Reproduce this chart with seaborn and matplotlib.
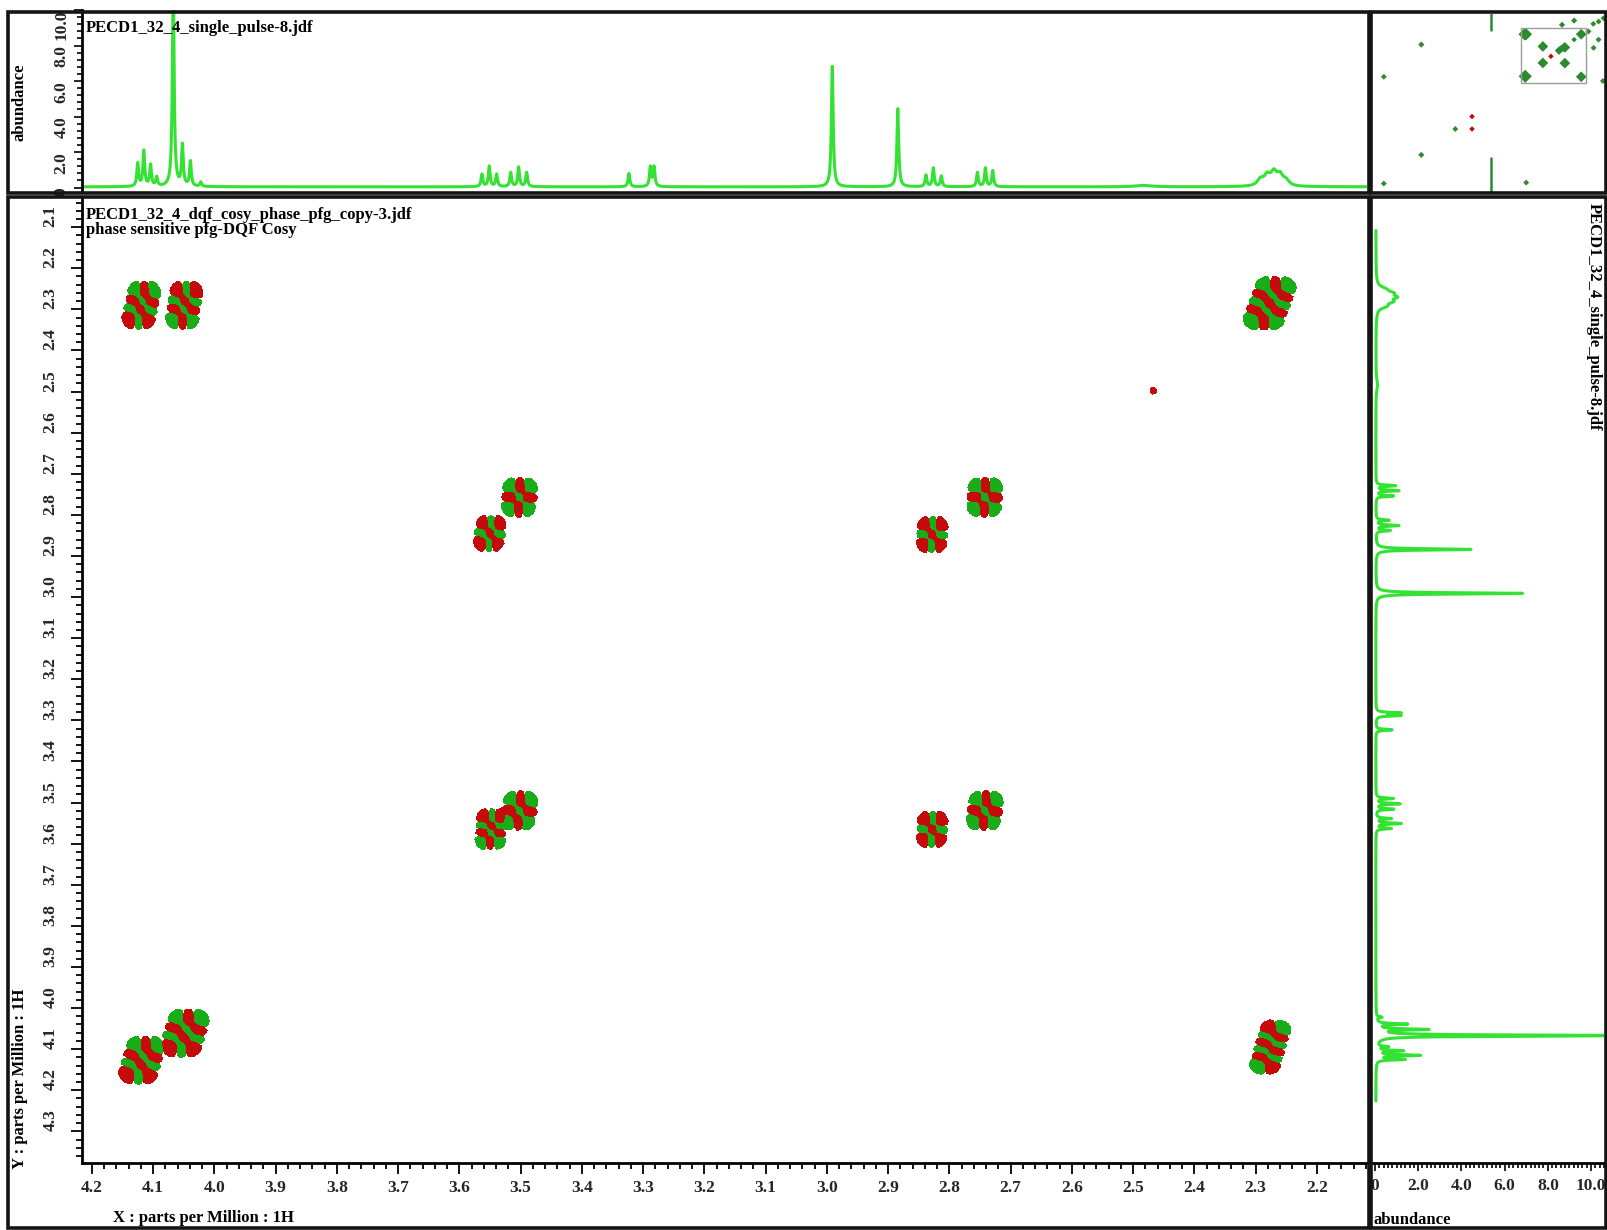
import numpy as np
import matplotlib
matplotlib.use("Agg")
import matplotlib.pyplot as plt
from matplotlib.patches import Rectangle
from matplotlib.ticker import MultipleLocator, FixedLocator
import seaborn as sns

sns.set_theme(style="white")
plt.rcParams["font.family"] = ["Liberation Serif", "DejaVu Serif"]
plt.rcParams["font.weight"] = "bold"
plt.rcParams["axes.labelweight"] = "bold"

W, H = 1608, 1230

# ---------------- 1H single-pulse spectrum: line list ----------------
line_ppm = [4.125, 4.115, 4.104, 4.094, 4.067, 4.052, 4.039, 4.022,
            3.563, 3.551, 3.539, 3.516, 3.503, 3.490,
            3.323, 3.288, 3.282,
            2.991, 2.884,
            2.838, 2.826, 2.813, 2.754, 2.741, 2.729,
            2.483,
            2.292, 2.281, 2.270, 2.260, 2.250]
line_height = [1.3, 2.0, 1.2, 0.5, 11.5, 2.3, 1.4, 0.25,
               0.7, 1.15, 0.7, 0.8, 1.1, 0.8,
               0.75, 1.1, 1.1,
               6.8, 4.4,
               0.65, 1.05, 0.6, 0.8, 1.05, 0.9,
               0.08,
               0.35, 0.55, 0.7, 0.55, 0.28]
line_hwhm = [0.0017] * 17 + [0.0017, 0.0017] + [0.0017] * 6 + [0.015] + [0.006] * 5
spec_baseline = 0.04

# ---------------- DQF-COSY peaks (F2 = x, F1 = y) ----------------
cosy_x = [4.119, 4.049, 2.277, 3.502, 3.550, 2.828, 2.742,
          3.548, 3.502, 2.828, 2.742, 4.118, 4.048, 2.276, 2.467]
cosy_y = [2.290, 2.290, 2.285, 2.757, 2.845, 2.848, 2.757,
          3.565, 3.520, 3.565, 3.520, 4.127, 4.061, 4.095, 2.498]
cosy_sign = [1, -1, 1, 1, -1, -1, 1, -1, 1, -1, 1, 1, 1, 1, -0.03]
cosy_nx = [3, 3, 3, 3, 3, 3, 3, 3, 3, 3, 3, 3, 3, 2, 1]
cosy_ny = [4, 4, 5, 3, 3, 3, 3, 4, 3, 3, 3, 4, 4, 6, 1]
cosy_dx = [0.0108, 0.0108, 0.0137, 0.0113, 0.0099, 0.0099, 0.0113,
           0.0099, 0.0113, 0.0099, 0.0113, 0.0128, 0.0137, 0.0125, 0.006]
cosy_dy = [0.0192, 0.0192, 0.0183, 0.0191, 0.0173, 0.0173, 0.0191,
           0.0163, 0.0191, 0.0173, 0.0191, 0.0192, 0.0192, 0.0163, 0.008]
cosy_shear = [0.15, 0.1, 0.25, 0.05, 0.1, 0.05, 0.05,
              0.05, 0.1, 0.05, 0.1, 0.2, 0.2, 0.2, 0.0]
contour_floor = 0.007

# ---------------- overview map (full spectral width) ----------------
ov_x = [4.10, 4.06, 3.51, 3.51, 2.80, 2.80, 4.08, 2.27, 2.27,
        2.99, 2.94, 2.885, 2.83, 2.89, 2.50, 2.04, 1.88, 1.71,
        1.55, 1.71, 1.87, 1.57, 7.44, 8.65, 6.34, 7.44, 8.65, 4.05, 2.50]
ov_y = [2.29, 2.29, 2.81, 3.51, 2.85, 3.52, 4.08, 2.29, 4.10,
        2.99, 2.92, 2.885, 2.83, 1.89, 1.71, 2.17, 1.85, 1.75,
        1.61, 2.52, 2.87, 4.28, 2.73, 4.10, 6.32, 7.42, 8.64, 8.60, 2.52]
ov_size = [40, 40, 30, 30, 30, 30, 45, 30, 30,
           18, 14, 14, 14, 10, 10, 10, 9, 9,
           9, 9, 9, 9, 10, 9, 9, 10, 9, 9, 8]
ov_neg_x = [3.25, 5.80, 5.80]
ov_neg_y = [3.23, 5.79, 6.32]
streak_x = [5.18, 5.18]
streak_upper_y = [1.43, 2.10]
streak_lower_y = [7.55, 9.00]

x_ticks = [4.2, 4.1, 4.0, 3.9, 3.8, 3.7, 3.6, 3.5, 3.4, 3.3, 3.2, 3.1,
           3.0, 2.9, 2.8, 2.7, 2.6, 2.5, 2.4, 2.3, 2.2]
y_ticks = [2.1, 2.2, 2.3, 2.4, 2.5, 2.6, 2.7, 2.8, 2.9, 3.0, 3.1, 3.2,
           3.3, 3.4, 3.5, 3.6, 3.7, 3.8, 3.9, 4.0, 4.1, 4.2, 4.3]
abund_ticks = [0, 2, 4, 6, 8, 10]
abund_labels = ["0", "2.0", "4.0", "6.0", "8.0", "10.0"]

x_lim = (4.216, 2.118)
y_lim = (4.377, 2.029)
top_ylim = (-0.25, 10.0)
right_xlim = (-0.09, 10.6)
ov_xlim = (9.0, 1.47)
ov_ylim = (9.0, 1.43)

LINE_GREEN = "#34e234"
POS = "#1aad1a"
NEG = "#c50b0b"
OV_GREEN = "#2d8a2d"
FRAME = "#141414"
TICK_FS = 12.5
TEXT_FS = 12


def fbox(x0, y0, x1, y1):
    return [x0 / W, 1 - y1 / H, (x1 - x0) / W, (y1 - y0) / H]


def ftext(fig, x, y, s, **kw):
    fig.text(x / W, 1 - y / H, s, fontsize=kw.pop("fontsize", TEXT_FS),
             fontweight="bold", color="black", **kw)


def lobe_weights(n):
    c = (n - 1) / 2
    return [1.0 - 0.3 * abs(k - c) / max(c, 1.0) for k in range(n)]


fig = plt.figure(figsize=(W / 100, H / 100), dpi=100)
fig.patch.set_facecolor("white")

ax_top = fig.add_axes(fbox(82, 10, 1367, 192))
ax_main = fig.add_axes(fbox(82, 198, 1367, 1163))
ax_right = fig.add_axes(fbox(1373, 198, 1604, 1163))
ax_ov = fig.add_axes(fbox(1373, 14, 1606, 192))

# ---- 1D spectrum from the line list (Lorentzian lines) ----
ppm_grid = np.linspace(x_lim[1] - 0.01, x_lim[0] + 0.01, 9000)
spec = np.full_like(ppm_grid, spec_baseline)
for p, h, w in zip(line_ppm, line_height, line_hwhm):
    spec += h / (1.0 + ((ppm_grid - p) / w) ** 2)

sns.lineplot(x=ppm_grid, y=spec, ax=ax_top, color=LINE_GREEN, lw=2.2,
             estimator=None, sort=False)
ax_top.set_xlim(*x_lim)
ax_top.set_ylim(*top_ylim)
ax_top.set_xticks([])
ax_top.set_xlabel("")
ax_top.set_ylabel("")
ax_top.yaxis.set_major_locator(FixedLocator(abund_ticks))
ax_top.yaxis.set_minor_locator(MultipleLocator(0.4))
ax_top.set_yticklabels(abund_labels, rotation=90, va="top",
                       fontsize=TICK_FS, fontweight="bold")
ax_top.tick_params(axis="y", which="both", left=True, direction="out",
                   width=1.2, color="black", pad=3)
ax_top.tick_params(axis="y", which="major", length=6)
ax_top.tick_params(axis="y", which="minor", length=3.5)
for side in ["top", "right", "bottom"]:
    ax_top.spines[side].set_visible(False)
ax_top.spines["left"].set_color("black")
ax_top.spines["left"].set_linewidth(2.0)

# projection on the F1 side
sns.lineplot(x=spec, y=ppm_grid, ax=ax_right, color=LINE_GREEN, lw=2.2,
             estimator=None, sort=False)
ax_right.set_ylim(*y_lim)
ax_right.set_xlim(*right_xlim)
ax_right.set_yticks([])
ax_right.set_xlabel("")
ax_right.set_ylabel("")
ax_right.xaxis.set_major_locator(FixedLocator(abund_ticks))
ax_right.xaxis.set_minor_locator(MultipleLocator(0.2))
ax_right.set_xticklabels(abund_labels, fontsize=TICK_FS, fontweight="bold")
ax_right.tick_params(axis="x", which="both", bottom=True, direction="out",
                     width=1.2, color="black", pad=5)
ax_right.tick_params(axis="x", which="major", length=6)
ax_right.tick_params(axis="x", which="minor", length=3.5)
for side in ["top", "right", "left"]:
    ax_right.spines[side].set_visible(False)
ax_right.spines["bottom"].set_color("black")
ax_right.spines["bottom"].set_linewidth(2.0)

# ---- 2D DQF-COSY map: anti-phase multiplet patterns ----
xg = np.arange(x_lim[1], x_lim[0] + 1e-9, 0.0048)
yg = np.arange(y_lim[1], y_lim[0] + 1e-9, 0.0075)
Z = np.zeros((yg.size, xg.size))
for x0, y0, sg, nx, ny, dx, dy, sh in zip(cosy_x, cosy_y, cosy_sign, cosy_nx,
                                          cosy_ny, cosy_dx, cosy_dy, cosy_shear):
    sx, sy = 0.5 * dx, 0.5 * dy
    wx, wy = lobe_weights(nx), lobe_weights(ny)
    for j in range(ny):
        yj = y0 + (j - (ny - 1) / 2) * dy
        gy = wy[j] * np.exp(-((yg - yj) ** 2) / (2 * sy ** 2))
        for i in range(nx):
            xi = x0 + (i - (nx - 1) / 2) * dx + sh * (yj - y0)
            gx = wx[i] * np.exp(-((xg - xi) ** 2) / (2 * sx ** 2))
            Z += sg * (-1) ** (i + j) * np.outer(gy, gx)

ax_main.contourf(xg, yg, Z, levels=[contour_floor, Z.max() + 1], colors=[POS])
ax_main.contourf(xg, yg, Z, levels=[Z.min() - 1, -contour_floor], colors=[NEG])
ax_main.set_xlim(*x_lim)
ax_main.set_ylim(*y_lim)
ax_main.xaxis.set_major_locator(FixedLocator(x_ticks))
ax_main.xaxis.set_minor_locator(MultipleLocator(0.02))
ax_main.yaxis.set_major_locator(FixedLocator(y_ticks))
ax_main.yaxis.set_minor_locator(MultipleLocator(0.02))
ax_main.set_xticklabels([f"{v:.1f}" for v in x_ticks], fontsize=TICK_FS,
                        fontweight="bold")
ax_main.set_yticklabels([f"{v:.1f}" for v in y_ticks], fontsize=TICK_FS,
                        fontweight="bold", rotation=90, va="bottom")
ax_main.tick_params(axis="both", which="both", bottom=True, left=True,
                    direction="out", width=1.3, color="black")
ax_main.tick_params(axis="both", which="major", length=8)
ax_main.tick_params(axis="both", which="minor", length=4.5)
ax_main.tick_params(axis="x", which="major", pad=4)
ax_main.tick_params(axis="y", which="major", pad=9)
for side in ["top", "right"]:
    ax_main.spines[side].set_visible(False)
for side in ["left", "bottom"]:
    ax_main.spines[side].set_color("black")
    ax_main.spines[side].set_linewidth(2.0)

# ---- overview thumbnail ----
sns.scatterplot(x=ov_x, y=ov_y, ax=ax_ov, color=OV_GREEN, marker="D",
                s=ov_size, edgecolor="none", legend=False)
sns.scatterplot(x=ov_neg_x, y=ov_neg_y, ax=ax_ov, color=NEG, marker="D",
                s=8, edgecolor="none", legend=False)
ax_ov.plot(streak_x, streak_upper_y, color=OV_GREEN, lw=1.8)
ax_ov.plot(streak_x, streak_lower_y, color=OV_GREEN, lw=1.8)
ax_ov.add_patch(Rectangle((x_lim[1], y_lim[1]), x_lim[0] - x_lim[1],
                          y_lim[0] - y_lim[1], fill=False,
                          edgecolor="#9c9c9c", lw=1.0))
ax_ov.set_xlim(*ov_xlim)
ax_ov.set_ylim(*ov_ylim)
ax_ov.set_axis_off()

# ---- panel frames ----
for (x0, y0, x1, y1) in [(8, 12, 1369, 193), (8, 197, 1369, 1228),
                         (1371, 12, 1606, 193), (1371, 197, 1606, 1228)]:
    fig.add_artist(Rectangle((x0 / W, 1 - y1 / H), (x1 - x0) / W,
                             (y1 - y0) / H, transform=fig.transFigure,
                             fill=False, lw=2.6, edgecolor=FRAME, zorder=20))

# ---- text ----
ftext(fig, 86, 28, "PECD1_32_4_single_pulse-8.jdf", ha="left", va="center")
ftext(fig, 86, 215, "PECD1_32_4_dqf_cosy_phase_pfg_copy-3.jdf",
      ha="left", va="center")
ftext(fig, 86, 230, "phase sensitive pfg-DQF Cosy", ha="left", va="center")
ftext(fig, 20, 102, "abundance", rotation=90, ha="center", va="center")
ftext(fig, 20, 1169, "Y : parts per Million : 1H", rotation=90,
      ha="center", va="bottom")
ftext(fig, 113, 1218, "X : parts per Million : 1H", ha="left", va="center")
ftext(fig, 1374, 1220, "abundance", ha="left", va="center")
ftext(fig, 1594, 203, "PECD1_32_4_single_pulse-8.jdf", rotation=-90,
      ha="center", va="top")

fig.savefig("out.png", dpi=100, facecolor="white")
